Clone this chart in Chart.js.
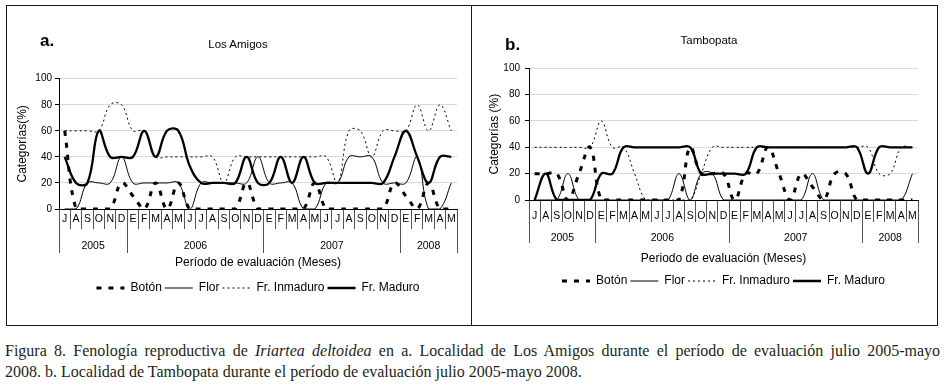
<!DOCTYPE html>
<html>
<head>
<meta charset="utf-8">
<title>Fenología reproductiva de Iriartea deltoidea</title>
<script src="https://cdn.jsdelivr.net/npm/chart.js@4.4.1/dist/chart.umd.min.js"></script>
<style>
  html, body { margin: 0; padding: 0; background: #fff; }
  body { position: relative; width: 944px; height: 386px; overflow: hidden; font-family: "Liberation Sans", Arial, sans-serif; color: #000; }
  .frame { position: absolute; left: 6px; top: 5px; width: 932px; height: 321px; border: 1px solid #1a1a1a; box-sizing: border-box; }
  .divider { position: absolute; left: 471px; top: 5px; width: 1px; height: 321px; background: #1a1a1a; }
  canvas { position: absolute; }
  #chartA { left: 8px; top: 6px; }
  #chartB { left: 473px; top: 6px; }
  .tag { position: absolute; font-weight: bold; font-size: 17px; line-height: 17px; }
  .ptitle { position: absolute; width: 200px; text-align: center; font-size: 11.5px; line-height: 11.5px; }
  .caption { position: absolute; left: 5px; width: 935px; font-family: "Liberation Serif", "DejaVu Serif", serif; font-size: 16px; line-height: 21px; color: #231f20; }
  .caption .l1 { text-align: justify; text-align-last: justify; white-space: nowrap; }
</style>
</head>
<body>
<div class="frame"></div>
<div class="divider"></div>

<canvas id="chartA" width="493" height="316"></canvas>
<canvas id="chartB" width="487" height="316"></canvas>

<div class="tag" style="left:40px; top:31.6px;">a.</div>
<div class="tag" style="left:505px; top:35.6px;">b.</div>
<div class="ptitle" style="left:138px; top:38.6px;">Los Amigos</div>
<div class="ptitle" style="left:609px; top:35.3px;">Tambopata</div>

<div class="caption" style="top:340px;">
  <div class="l1">Figura 8. Fenología reproductiva de <i>Iriartea deltoidea</i> en a. Localidad de Los Amigos durante el período de evaluación julio 2005-mayo</div>
  <div>2008. b. Localidad de Tambopata durante el período de evaluación julio 2005-mayo 2008.</div>
</div>

<script>
// months as printed under the axis (E = enero), julio 2005 - mayo 2008
const months = ['J','A','S','O','N','D',
  'E','F','M','A','M','J','J','A','S','O','N','D',
  'E','F','M','A','M','J','J','A','S','O','N','D',
  'E','F','M','A','M'];
const years = ['2005', '2006', '2007', '2008'];
const monthsPerYear = [6, 12, 12, 5];

// a. Los Amigos (% de individuos)
const botonA    = [60,0,0,0,0,20,10,0,20,0, 20,0,0,0,0,0,20,0,0,0, 0,0,20,0,0,0,0,0,0,20, 10,0,20,0,0];
const florA     = [0,0,20,20,20,40,20,20,20,20, 20,0,20,20,20,20,20,40,20,20, 20,0,0,20,20,40,40,40,20,20, 20,40,0,0,20];
const inmaduroA = [60,60,60,60,80,80,60,60,40,40, 40,40,40,40,20,40,40,40,40,40, 40,40,40,40,20,60,60,40,60,60, 60,80,60,80,60];
const maduroA   = [40,20,20,60,40,40,40,60,40,60, 60,33,20,20,20,20,40,20,20,40, 20,40,20,20,20,20,20,20,20,40, 60,40,20,40,40];

// b. Tambopata
const botonB    = [20,20,20,0,20,40,0,0,0,0, 0,0,0,0,40,20,20,20,0,20, 20,40,20,0,20,10,0,20,20,0, 0,0,0,0,0];
const florB     = [0,0,0,20,0,0,0,0,0,0, 0,0,0,20,0,20,20,0,0,0, 0,0,0,0,0,20,0,0,0,0, 0,0,0,0,20];
const inmaduroB = [40,40,40,40,40,40,60,40,40,20, 0,0,0,0,0,20,40,40,40,40, 40,40,40,40,40,40,40,40,40,40, 40,20,20,40,40];
const maduroB   = [0,20,0,0,0,0,20,20,40,40, 40,40,40,40,40,20,20,20,20,20, 40,40,40,40,40,40,40,40,40,40, 20,40,40,40,40];

Chart.defaults.font.family = '"Liberation Sans", Arial, sans-serif';
Chart.defaults.color = '#000';

// year row: separators at year edges, labels centred in each year
const yearEdges = [0];
monthsPerYear.forEach(n => yearEdges.push(yearEdges[yearEdges.length - 1] + n));
const yearMids = years.map((y, i) => (yearEdges[i] + yearEdges[i + 1]) / 2);
const yearTickValues = yearEdges.concat(yearMids).sort((a, b) => a - b);

function buildDatasets(boton, flor, inmaduro, maduro) {
  const common = { borderColor: '#000', backgroundColor: '#000', fill: false, pointRadius: 0, tension: 0.4, xAxisID: 'x', yAxisID: 'y' };
  return [
    Object.assign({ label: 'Botón', data: boton, borderWidth: 3, borderDash: [5, 7], borderCapStyle: 'butt' }, common),
    Object.assign({ label: 'Flor', data: flor, borderWidth: 1 }, common),
    Object.assign({ label: 'Fr. Inmaduro', data: inmaduro, borderWidth: 1, borderDash: [2, 3], borderColor: '#222' }, common),
    Object.assign({ label: 'Fr. Maduro', data: maduro, borderWidth: 2.3 }, common)
  ];
}

function phenologyChart(id, datasets, g) {
  return new Chart(document.getElementById(id), {
    type: 'line',
    data: { labels: months, datasets: datasets },
    options: {
      responsive: false,
      animation: false,
      events: [],
      devicePixelRatio: 1,
      layout: { padding: { left: g.padLeft, right: g.padRight, top: g.padTop, bottom: g.padBottom } },
      plugins: {
        tooltip: { enabled: false },
        legend: {
          position: 'bottom',
          labels: {
            usePointStyle: true,
            pointStyleWidth: 28,
            boxHeight: 12,
            padding: 3,
            font: { size: 12 },
            color: '#000',
            generateLabels: chart => chart.data.datasets.map((ds, i) => ({
              text: ds.label,
              datasetIndex: i,
              hidden: false,
              fillStyle: 'rgba(0,0,0,0)',
              strokeStyle: ds.borderColor,
              lineWidth: ds.borderWidth,
              lineDash: ds.borderDash || [],
              lineCap: 'butt',
              pointStyle: 'line',
              fontColor: '#000'
            }))
          }
        }
      },
      scales: {
        x: {
          type: 'category',
          position: 'bottom',
          weight: 0,
          offset: true,
          grid: { offset: true, drawOnChartArea: false, drawTicks: true, tickLength: g.monthTick, tickColor: '#555', lineWidth: 1 },
          border: { display: true, color: '#000', width: 1 },
          ticks: { autoSkip: false, maxRotation: 0, font: { size: 10.5 }, color: '#000', padding: g.monthPad },
          afterFit: s => { s.height = g.monthTick; }
        },
        xYear: {
          type: 'linear',
          position: 'bottom',
          weight: 1,
          min: 0,
          max: yearEdges[yearEdges.length - 1],
          afterBuildTicks: s => { s.ticks = yearTickValues.map(v => ({ value: v })); },
          grid: {
            drawOnChartArea: false, drawTicks: true, tickLength: g.yearTick, lineWidth: 1,
            tickColor: c => (c.tick && yearEdges.includes(c.tick.value)) ? '#555' : 'rgba(0,0,0,0)'
          },
          border: { display: false },
          ticks: {
            autoSkip: false, maxRotation: 0, font: { size: 10.5 }, color: '#000', padding: g.yearPad,
            callback: v => { const k = yearMids.indexOf(v); return k >= 0 ? years[k] : ''; }
          },
          title: { display: true, text: g.xTitle, font: { size: 12 }, color: '#000', padding: { top: 0, bottom: g.xTitlePad } },
          afterFit: s => { s.height = g.yearH; }
        },
        y: {
          position: 'left',
          min: 0,
          max: 100,
          ticks: { stepSize: 20, font: { size: 10 }, color: '#000', padding: g.yTickPad },
          grid: { color: '#d9d9d9', tickColor: '#000', tickLength: 4, drawTicks: true },
          border: { display: true, color: '#000', width: 1 },
          title: { display: true, text: g.yTitle, font: { size: 12 }, color: '#000', padding: 0 },
          afterFit: s => { s.width = g.yW; }
        },
        // empty axis on the right so legend and axis title centre on the plot
        yPad: {
          position: 'right',
          min: 0,
          max: 100,
          grid: { display: false },
          border: { display: false },
          ticks: { display: false },
          afterFit: s => { s.width = g.yW; }
        }
      }
    }
  });
}

phenologyChart('chartA', buildDatasets(botonA, florA, inmaduroA, maduroA), {
  padLeft: 7.8, padRight: 0.8, padTop: 72.7, padBottom: 18,
  yW: 43.2, yTickPad: 3,
  monthTick: 20, monthPad: -16.3,
  yearTick: 24, yearPad: -13.3, yearH: 50, xTitlePad: 8.8,
  yTitle: 'Categorías(%)',
  xTitle: 'Período de evaluación (Meses)'
});

phenologyChart('chartB', buildDatasets(botonB, florB, inmaduroB, maduroB), {
  padLeft: 14.8, padRight: 0.8, padTop: 62.3, padBottom: 25,
  yW: 41.2, yTickPad: 5,
  monthTick: 22, monthPad: -12.6,
  yearTick: 21, yearPad: -11.3, yearH: 50, xTitlePad: 5.8,
  yTitle: 'Categorías (%)',
  xTitle: 'Periodo de evaluación (Meses)'
});
</script>
</body>
</html>
